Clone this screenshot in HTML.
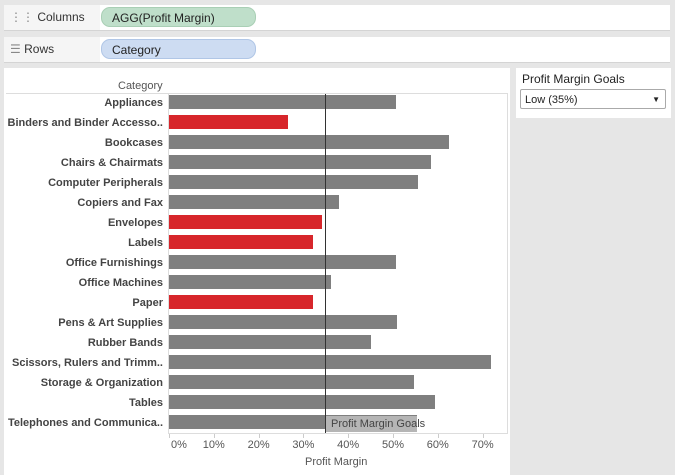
<!DOCTYPE html><html><head><style>
body{margin:0;width:675px;height:475px;background:#e6e6e6;font-family:"Liberation Sans",sans-serif;position:relative;overflow:hidden}
.a{position:absolute}
.shelf{position:absolute;left:4px;width:666px;height:25px;background:#fff;border-bottom:1px solid #d4d4d4}
.shelf .lb{position:absolute;left:0;top:0;width:96px;height:25px;background:#f5f5f5;font-size:12px;line-height:25px;color:#333}
.pill{position:absolute;left:97px;top:2px;width:155px;height:20px;border-radius:9px;font-size:12px;line-height:20px;padding-left:10px;box-sizing:border-box;color:#222}
.lab{position:absolute;right:512px;font-size:11px;font-weight:bold;color:#444;white-space:nowrap}
.bar{position:absolute;left:169px;height:14px;background:#7f7f7f}
.r{background:#d7262b}
.t{position:absolute;font-size:11px;color:#555;top:439px;width:40px;text-align:center}
</style></head><body>
<div class="shelf" style="top:5px"><div class="lb"><span style="margin-left:6px;color:#888">&#8942;&#8942;</span> Columns</div><div class="pill" style="background:#bfdfca;border:1px solid #a9cfb5">AGG(Profit Margin)</div></div>
<div class="shelf" style="top:37px"><div class="lb"><span style="margin-left:6px;color:#888">&#9776;</span> Rows</div><div class="pill" style="background:#cddcf2;border:1px solid #b0c6e6">Category</div></div>
<div class="a" style="left:4px;top:68px;width:506px;height:407px;background:#fff"></div>
<div class="a" style="left:118px;top:80px;font-size:11px;color:#555">Category</div>
<div class="a" style="left:6px;top:93px;width:502px;height:1px;background:#ddd"></div>
<div class="a" style="left:168px;top:93px;width:1px;height:340px;background:#ddd"></div>
<div class="a" style="left:507px;top:93px;width:1px;height:340px;background:#ddd"></div>
<div class="a" style="left:168px;top:433px;width:340px;height:1px;background:#ddd"></div>
<div id="rows"></div>
<div class="a" style="left:325px;top:94px;width:1px;height:339px;background:#333"></div>
<div class="a" style="left:326px;top:416px;width:91px;height:16px;background:#b5b5b5;font-size:11px;line-height:16px;color:#444;padding-left:5px;box-sizing:border-box;white-space:nowrap;overflow:visible">Profit Margin Goals</div>
<div id="ticks"></div>
<div class="a" style="left:305px;top:456px;font-size:11px;color:#555">Profit Margin</div>
<div class="a" style="left:516px;top:68px;width:155px;height:50px;background:#fff"></div>
<div class="a" style="left:522px;top:72px;font-size:12px;color:#222">Profit Margin Goals</div>
<div class="a" style="left:520px;top:89px;width:146px;height:20px;border:1px solid #aaa;border-radius:2px;font-size:11px;line-height:20px;padding-left:4px;box-sizing:border-box;color:#222">Low (35%)<span style="position:absolute;right:5px;font-size:8px">&#9660;</span></div>
<script>
var d=[["Appliances",396],["Binders and Binder Accesso..",288,1],["Bookcases",449],["Chairs & Chairmats",431],["Computer Peripherals",418],["Copiers and Fax",339],["Envelopes",322,1],["Labels",313,1],["Office Furnishings",396],["Office Machines",331],["Paper",313,1],["Pens & Art Supplies",397],["Rubber Bands",371],["Scissors, Rulers and Trimm..",491],["Storage & Organization",414],["Tables",435],["Telephones and Communica..",417]];
var h="";d.forEach(function(r,i){var c=102+20*i;h+='<div class="lab" style="top:'+(c-5)+'px">'+r[0].replace(/&/g,"&amp;")+'</div><div class="bar'+(r[2]?' r':'')+'" style="top:'+(c-7)+'px;width:'+(r[1]-169)+'px"></div>';});
document.getElementById("rows").innerHTML=h;
var t="";for(var i=0;i<8;i++){var x=169+44.8*i;t+='<div class="a" style="left:'+x+'px;top:434px;width:1px;height:4px;background:#ccc"></div><div class="t" style="left:'+(x-20+(i==0?10:0))+'px">'+(i*10)+'%</div>';}
document.getElementById("ticks").innerHTML=t;
</script>
</body></html>
